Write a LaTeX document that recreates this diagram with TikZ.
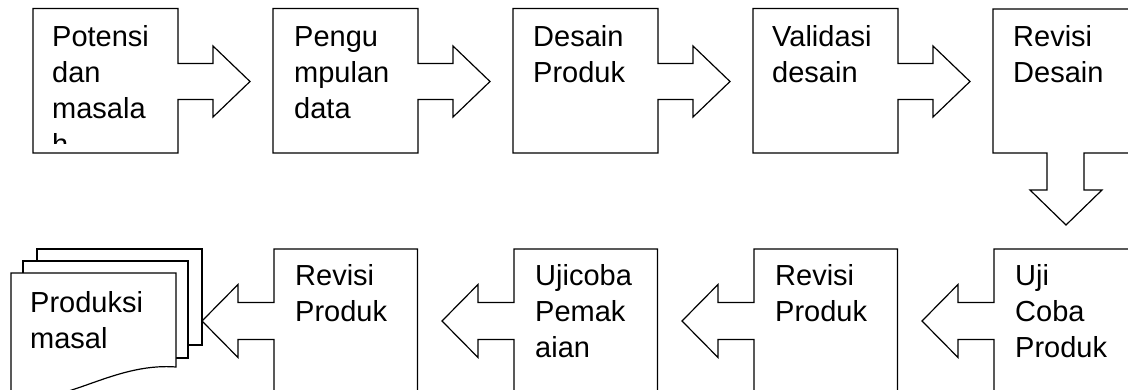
\documentclass[tikz,border=0pt]{standalone}
\usepackage{fontspec}
\setmainfont{Liberation Sans}
\newcommand\stackedlines[1]{\parbox[t]{160pt}{\raggedright #1}}
\tikzset{
  outline/.style={draw=black, line width=1.2pt, fill=white, line join=miter},
  steptext/.style={anchor=base west, inner sep=0pt, font=\fontsize{29}{36}\selectfont},
  % box with an arrow leaving its right side
  pics/rightcallout/.style={code={
    \draw[outline] (0,0) -- (145,0) -- (145,55) -- (180,55) -- (180,37.5)
      -- (217,73) -- (180,108.5) -- (180,91) -- (145,91) -- (145,144.5)
      -- (0,144.5) -- cycle;
  }},
  % box with an arrow leaving its bottom side
  pics/downcallout/.style={code={
    \draw[outline] (0,0) -- (145,0) -- (145,144) -- (91,144) -- (91,181)
      -- (109,181) -- (73,216) -- (37,181) -- (54,181) -- (54,144)
      -- (0,144) -- cycle;
  }},
  % box with an arrow leaving its left side
  pics/leftcallout/.style={code={
    \draw[outline] (0,0) -- (143.5,0) -- (143.5,151) -- (0,151) -- (0,90.5)
      -- (-36,90.5) -- (-36,108.5) -- (-72,72) -- (-36,35.5) -- (-36,53.5)
      -- (0,53.5) -- cycle;
  }},
}
\begin{document}
\begin{tikzpicture}[x=1pt,y=-1pt]
  \useasboundingbox (0,0) rectangle (1128,389);
  \fill[white] (0,0) rectangle (1128,389);
  \clip (0,0) rectangle (1128,389);

  % upper row, left to right
  \pic at (33,8.5)   {rightcallout};
  \pic at (273,8.5)  {rightcallout};
  \pic at (513,8.5)  {rightcallout};
  \pic at (753,8.5)  {rightcallout};
  \pic at (993,9)    {downcallout};

  \begin{scope}
    \clip (33,8.5) rectangle (178,143);
    \node[steptext] (potensi) at (52,46.5) {\stackedlines{Potensi\\dan\\masala\\h}};
  \end{scope}
  \node[steptext] (pengumpulan) at (294,46.5) {\stackedlines{Pengu\\mpulan\\data}};
  \node[steptext] (desain)      at (533,46.5) {\stackedlines{Desain\\Produk}};
  \node[steptext] (validasi)    at (772,46.5) {\stackedlines{Validasi\\desain}};
  \node[steptext] (revdesain)   at (1013,46.5) {\stackedlines{Revisi\\Desain}};

  % lower row, right to left
  \pic at (994,249) {leftcallout};
  \pic at (754,249) {leftcallout};
  \pic at (514,249) {leftcallout};
  \pic at (274,249) {leftcallout};

  \node[steptext] (ujicoba)    at (1015,285) {\stackedlines{Uji\\Coba\\Produk}};
  \node[steptext] (revproduk1) at (775,285)  {\stackedlines{Revisi\\Produk}};
  \node[steptext] (pemakaian)  at (535,285)  {\stackedlines{Ujicoba\\Pemak\\aian}};
  \node[steptext] (revproduk2) at (295,285)  {\stackedlines{Revisi\\Produk}};

  % stacked documents
  \draw[outline] (37,249) rectangle (202,345);
  \draw[outline] (23,261) rectangle (188,358);
  \draw[outline] (11,395) -- (11,273) -- (176,273) -- (176,367)
    .. controls (110,362) and (60,410) .. (11,395);
  \node[steptext] (produksi) at (30,312) {\stackedlines{Produksi\\masal}};
\end{tikzpicture}
\end{document}
